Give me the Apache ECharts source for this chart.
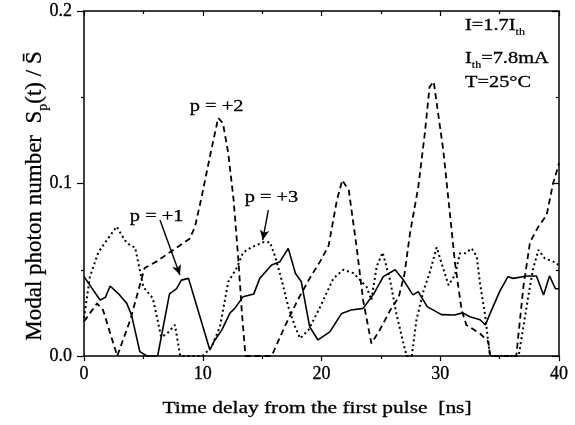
<!DOCTYPE html>
<html><head><meta charset="utf-8">
<script src="https://cdn.jsdelivr.net/npm/echarts@6/dist/echarts.min.js"></script>
<style>html,body{margin:0;padding:0;background:#fff}#c{width:575px;height:425px}</style>
</head><body><div id="c"></div>
<script>
// p = +1 (solid)
const p1X = [0, 1.35, 1.8, 2.2, 3.0, 3.6, 4.0, 4.7, 5.3, 6.2, 7.2, 7.8, 8.2, 8.8, 10.6, 11.0, 11.6, 12.3, 12.7, 13.4, 14.3, 14.8, 15.8, 16.5, 17.2, 17.8, 18.3, 19.0, 19.7, 20.7, 21.7, 22.5, 23.5, 24.4, 25.2, 26.2, 26.9, 27.7, 28.15, 28.9, 30.1, 31.2, 31.9, 32.5, 33.35, 33.8, 34.2, 35.0, 35.7, 36.15, 37.3, 38.1, 38.7, 39.2, 39.7, 40];
const p1Y = [0.046, 0.0325, 0.034, 0.0406, 0.0354, 0.0305, 0.0238, 0.0025, 0, 0, 0.036, 0.039, 0.044, 0.045, 0.0035, 0.009, 0.015, 0.025, 0.0276, 0.0344, 0.036, 0.045, 0.0528, 0.0547, 0.0624, 0.048, 0.043, 0.017, 0.0093, 0.014, 0.0247, 0.0267, 0.0276, 0.036, 0.046, 0.050, 0.044, 0.0354, 0.0373, 0.0286, 0.024, 0.0238, 0.025, 0.0228, 0.021, 0.018, 0.0247, 0.0373, 0.046, 0.045, 0.0464, 0.0464, 0.0354, 0.0464, 0.039, 0.039];
// p = +2 (dashed)
const p2X = [0, 1.1, 1.6, 2.8, 3.9, 5.1, 6.1, 7.2, 8.9, 9.35, 9.9, 10.6, 11.3, 11.7, 12.15, 12.6, 13.0, 13.3, 13.6, 15.8, 16.9, 18.0, 19.0, 19.9, 20.6, 21.3, 21.75, 22.3, 22.96, 23.5, 24.2, 24.9, 25.8, 26.5, 27.0, 27.45, 28.15, 28.7, 29.1, 29.45, 30.26, 30.7, 31.24, 31.8, 32.2, 33.35, 34.05, 34.2, 36.4, 37.0, 37.56, 38.26, 38.96, 39.5, 40];
const p2Y = [0.02, 0.0305, 0.0267, 0, 0.021, 0.051, 0.0547, 0.060, 0.068, 0.075, 0.092, 0.1155, 0.138, 0.135, 0.1175, 0.0904, 0.0557, 0.0247, 0, 0, 0.017, 0.0325, 0.045, 0.055, 0.064, 0.0904, 0.102, 0.096, 0.063, 0.0325, 0.0073, 0.015, 0.0267, 0.034, 0.048, 0.071, 0.098, 0.129, 0.156, 0.159, 0.119, 0.090, 0.054, 0.0267, 0.018, 0.013, 0.0083, 0, 0, 0.040, 0.066, 0.075, 0.0817, 0.100, 0.1117];
// p = +3 (dotted)
const p3X = [0, 0.5, 1.2, 1.8, 2.75, 3.45, 3.9, 4.3, 5.0, 5.8, 6.5, 7.0, 7.66, 8.1, 10.0, 10.75, 11.45, 12.15, 12.86, 13.4, 14.1, 15.1, 15.66, 16.1, 16.65, 17.2, 17.77, 18.2, 18.9, 19.9, 21.0, 21.84, 22.7, 23.4, 23.8, 24.2, 24.65, 25.15, 25.77, 26.3, 26.9, 27.17, 27.6, 28.0, 28.6, 29.1, 29.7, 30.1, 30.7, 31.24, 31.66, 32.1, 32.65, 33.07, 33.35, 33.8, 34.05, 34.2, 36.6, 36.86, 37.4, 37.8, 38.26, 38.8, 39.8, 40];
const p3Y = [0.022, 0.046, 0.060, 0.066, 0.075, 0.067, 0.064, 0.063, 0.040, 0.0334, 0.011, 0.013, 0.018, 0, 0, 0.0054, 0.017, 0.043, 0.051, 0.060, 0.063, 0.066, 0.066, 0.0576, 0.044, 0.0286, 0.017, 0.0102, 0.015, 0.0286, 0.045, 0.050, 0.048, 0.043, 0.040, 0.0325, 0.052, 0.060, 0.044, 0.0247, 0.0073, 0, 0, 0.021, 0.038, 0.048, 0.063, 0.054, 0.041, 0.047, 0.0595, 0.0595, 0.0624, 0.0576, 0.042, 0.0228, 0.0073, 0, 0, 0.011, 0.034, 0.050, 0.0615, 0.0566, 0.054, 0.052];
const xTicks = [0, 10, 20, 30, 40];
const yTicks = [0.0, 0.1, 0.2];
// annotation anchors (data units)
const labelP1 = [6.12, 0.0806];
const labelP2 = [11.16, 0.1449];
const labelP3 = [15.79, 0.0916];
const arrowP1 = [[6.4, 0.0788], [8.08, 0.047]];
const arrowP3 = [[15.52, 0.0846], [15.05, 0.0672]];

const zip = (a, b) => a.map((v, i) => [v, b[i]]);
const F = 'Liberation Serif';
const SW = 0.3; // slight stroke to mimic heavy print
const chart = echarts.init(document.getElementById('c'), null, {renderer: 'canvas'});

function xAx(pos, show) {
  return {
    type: 'value', position: pos, min: xTicks[0], max: xTicks[xTicks.length - 1], interval: 10,
    axisLine: {show: true, onZero: false, lineStyle: {color: '#000', width: 1.5}},
    axisTick: {show: true, inside: !show, length: 5, lineStyle: {color: '#000', width: 1.2}},
    minorTick: {show: true, splitNumber: 2, length: 3, lineStyle: {color: '#000', width: 1.2}},
    splitLine: {show: false},
    axisLabel: {show: show, color: '#000', fontFamily: F, fontSize: 18, margin: 9,
      textBorderColor: '#000', textBorderWidth: SW}
  };
}
function yAx(pos, show) {
  return {
    type: 'value', position: pos, min: yTicks[0], max: yTicks[yTicks.length - 1], interval: 0.1,
    axisLine: {show: true, onZero: false, lineStyle: {color: '#000', width: 1.5}},
    axisTick: {show: true, inside: !show, length: 7, lineStyle: {color: '#000', width: 1.2}},
    minorTick: {show: true, splitNumber: 2, length: 3, lineStyle: {color: '#000', width: 1.2}},
    splitLine: {show: false},
    axisLabel: {show: show, color: '#000', fontFamily: F, fontSize: 18, margin: 12,
      textBorderColor: '#000', textBorderWidth: SW, formatter: v => v.toFixed(1)}
  };
}
const arrowLine = (pts) => ({
  silent: true, symbol: ['none', 'arrow'], symbolSize: [7, 10],
  lineStyle: {color: '#000', width: 1.4, type: 'solid'}, label: {show: false},
  data: [[{coord: pts[0]}, {coord: pts[1]}]]
});
const R = (sz) => ({
  n: {fontFamily: F, fontSize: sz, fill: '#000', stroke: '#000', lineWidth: SW},
  s: {fontFamily: F, fontSize: Math.round(sz * 0.6), fill: '#000', stroke: '#000', lineWidth: SW * 0.7,
      padding: [Math.round(sz * 0.7), 0, 0, 0]}
});

chart.setOption({
  animation: false,
  backgroundColor: '#fff',
  grid: {left: 84, right: 16, top: 11, bottom: 69},
  xAxis: [xAx('bottom', true), xAx('top', false)],
  yAxis: [yAx('left', true), yAx('right', false)],
  series: [
    {name: 'p=+1', type: 'line', data: zip(p1X, p1Y), showSymbol: false, symbol: 'none',
      lineStyle: {color: '#000', width: 1.6, type: 'solid'}, markLine: arrowLine(arrowP1)},
    {name: 'p=+2', type: 'line', data: zip(p2X, p2Y), showSymbol: false, symbol: 'none',
      lineStyle: {color: '#000', width: 1.8, type: [6, 4]}},
    {name: 'p=+3', type: 'line', data: zip(p3X, p3Y), showSymbol: false, symbol: 'none',
      lineStyle: {color: '#000', width: 2, type: [2, 3]}, markLine: arrowLine(arrowP3)}
  ]
});

const toPx = (c) => chart.convertToPixel({xAxisIndex: 0, yAxisIndex: 0}, c);
const plain = (txt, extra) => Object.assign({text: txt, fill: '#000', stroke: '#000', lineWidth: SW,
  fontFamily: F, fontSize: 17}, extra);
const pLabel = (txt, c) => {
  const p = toPx(c);
  return {type: 'text', x: p[0], y: p[1], scaleX: 1.2,
    style: plain(txt, {align: 'center', verticalAlign: 'middle'})};
};
chart.setOption({
  graphic: [
    {type: 'text', x: 317, y: 409, scaleX: 1.26,
      style: plain('Time delay from the first pulse  [ns]', {align: 'center', verticalAlign: 'middle'})},
    {type: 'text', x: 35, y: 196, rotation: Math.PI / 2,
      style: {text: '{n|Modal photon number  S}{s|p}{n|(t) / S\u0304}', fill: '#000',
        align: 'center', verticalAlign: 'middle', rich: R(23)}},
    {type: 'text', x: 465, y: 26, scaleX: 1.2, style: {text: '{n|I=1.7I}{s|th}', fill: '#000', align: 'left', verticalAlign: 'middle', rich: R(17)}},
    {type: 'text', x: 465, y: 59, scaleX: 1.2, style: {text: '{n|I}{s|th}{n|=7.8mA}', fill: '#000', align: 'left', verticalAlign: 'middle', rich: R(17)}},
    {type: 'text', x: 465, y: 83, scaleX: 1.2, style: plain('T=25°C', {align: 'left', verticalAlign: 'middle'})},
    pLabel('p = +1', labelP1),
    pLabel('p = +2', labelP2),
    pLabel('p = +3', labelP3)
  ]
});
</script></body></html>
